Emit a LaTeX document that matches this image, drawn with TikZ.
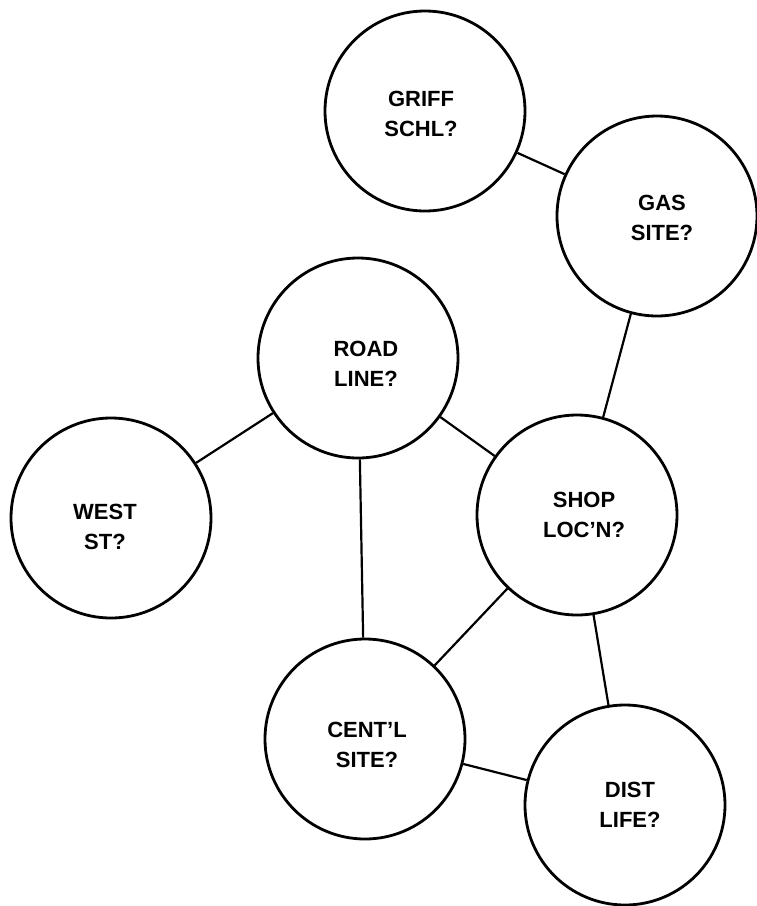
\documentclass[tikz,border=0pt]{standalone}
\usepackage{fontspec}
\setmainfont{Liberation Sans}
\begin{document}
\begin{tikzpicture}[x=1pt,y=-1pt,
  place/.style={circle,draw,line width=2.8pt,minimum size=200pt,inner sep=0pt},
  lbl/.style={align=center,inner sep=0pt,font=\fontsize{22}{30}\selectfont\bfseries},
  link/.style={line width=2.2pt}]
\useasboundingbox (0,0) rectangle (756,906);
\node[place] (griff) at (425,111) {};
\node[place] (gas)   at (657,216) {};
\node[place] (road)  at (358,358) {};
\node[place] (west)  at (111,518) {};
\node[place] (shop)  at (577,515) {};
\node[place] (cent)  at (365,739) {};
\node[place] (dist)  at (625,805) {};
\node[lbl] (tgriff) at (421,114) {GRIFF\\SCHL?};
\node[lbl] (tgas)   at (662,218) {GAS\\SITE?};
\node[lbl] (troad)  at (366,364) {ROAD\\LINE?};
\node[lbl] (twest)  at (105,527) {WEST\\ST?};
\node[lbl] (tshop)  at (584,515) {SHOP\\LOC'N?};
\node[lbl] (tcent)  at (367,745) {CENT'L\\SITE?};
\node[lbl] (tdist)  at (630,805) {DIST\\LIFE?};
\draw[link] (griff) -- (gas);
\draw[link] (gas) -- (shop);
\draw[link] (road) -- (west);
\draw[link] (road) -- (shop);
\draw[link] (road) -- (cent);
\draw[link] (shop) -- (cent);
\draw[link] (shop) -- (dist);
\draw[link] (cent) -- (dist);
\end{tikzpicture}
\end{document}
